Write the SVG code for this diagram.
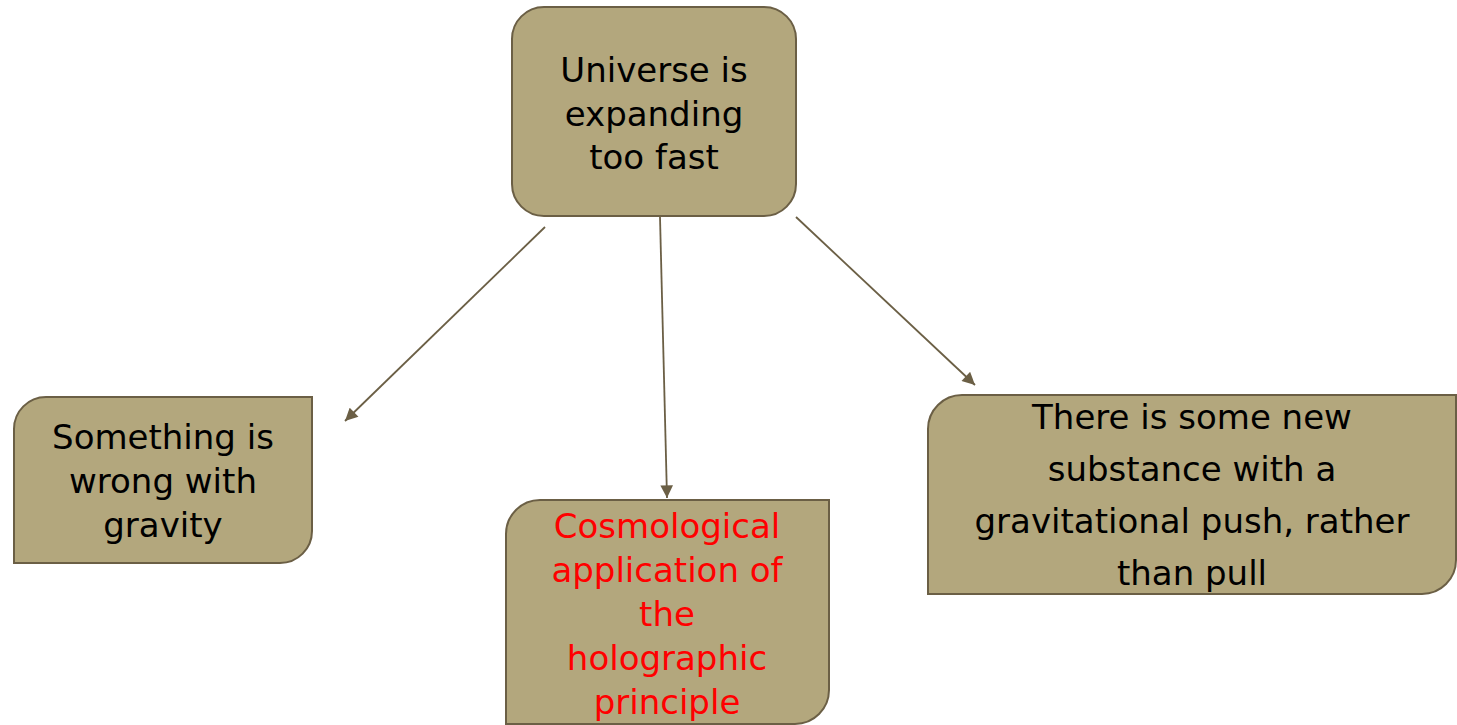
<svg xmlns="http://www.w3.org/2000/svg" width="1457" height="725" viewBox="0 0 1457 725">
<style>
.box{fill:#b3a77d;stroke:#6b5f45;stroke-width:2}
.t{font-family:"Comic Sans MS","DejaVu Sans",sans-serif;font-size:34px;fill:#000;text-anchor:middle}
.red{fill:#ff0000}
.conn{stroke:#6b5f45;stroke-width:1.8;fill:none;marker-end:url(#ah)}
</style>
<defs>
<marker id="ah" viewBox="0 0 10 10" refX="10" refY="5" markerWidth="7.5" markerHeight="7" orient="auto" markerUnits="strokeWidth">
<path d="M0,0 L10,5 L0,10 z" fill="#6b5f45"/>
</marker>
</defs>
<rect width="1457" height="725" fill="#fff"/>
<g id="connectors">
<line class="conn" x1="545" y1="227" x2="345" y2="421"/>
<line class="conn" x1="660" y1="217" x2="667" y2="498"/>
<line class="conn" x1="796" y1="217" x2="975" y2="385"/>
</g>
<g id="node-top">
<rect class="box" x="512" y="7" width="284" height="209" rx="32"/>
<text class="t" x="654" y="82">Universe is</text>
<text class="t" x="654" y="126">expanding</text>
<text class="t" x="654" y="169">too fast</text>
</g>
<g id="node-left">
<path class="box" d="M46,397 H312 V531 A32,32 0 0 1 280,563 H14 V429 A32,32 0 0 1 46,397 Z"/>
<text class="t" x="163" y="449">Something is</text>
<text class="t" x="163" y="493">wrong with</text>
<text class="t" x="163" y="537">gravity</text>
</g>
<g id="node-mid">
<path class="box" d="M540,500 H829 V690 A34,34 0 0 1 795,724 H506 V534 A34,34 0 0 1 540,500 Z"/>
<text class="t red" x="667" y="538">Cosmological</text>
<text class="t red" x="667" y="582">application of</text>
<text class="t red" x="667" y="626">the</text>
<text class="t red" x="667" y="670">holographic</text>
<text class="t red" x="667" y="714">principle</text>
</g>
<g id="node-right">
<path class="box" d="M962,395 H1456 V560 A34,34 0 0 1 1422,594 H928 V429 A34,34 0 0 1 962,395 Z"/>
<text class="t" x="1192" y="429">There is some new</text>
<text class="t" x="1192" y="481">substance with a</text>
<text class="t" x="1192" y="533">gravitational push, rather</text>
<text class="t" x="1192" y="585">than pull</text>
</g>
</svg>
